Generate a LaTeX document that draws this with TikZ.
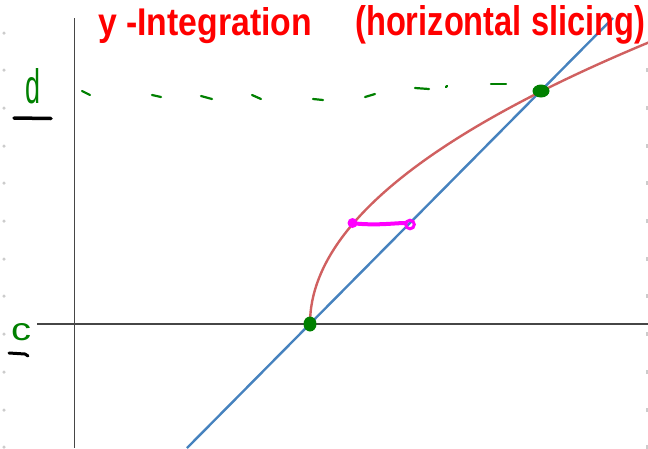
\documentclass[tikz,border=0pt]{standalone}
\usepackage{fontspec}
\setsansfont{Liberation Sans}
\usepackage{xcolor}
\usepackage{tikz}
\usetikzlibrary{arrows.meta, positioning, shapes.geometric}

\definecolor{inkred}{RGB}{255,0,0}
\definecolor{inkgreen}{RGB}{0,128,0}
\definecolor{inkpink}{RGB}{255,0,255}
\definecolor{lineblue}{RGB}{70,130,190}
\definecolor{curvered}{RGB}{208,96,96}
\definecolor{axisgray}{RGB}{70,70,70}

\tikzset{
	gridpt/.style={circle, fill=black!20, inner sep=0pt, minimum size=3.5pt},
	hitdot/.style={ellipse, fill=inkgreen, inner sep=0pt},
	axisline/.style={axisgray, line width=1.4pt},
	penline/.style={line width=2.2pt, line cap=round, line join=round},
}

\begin{document}
\begin{tikzpicture}[x=1pt, y=-1pt]
				\useasboundingbox (0, 0) rectangle (648, 448);
				% Paths, nodes and wires:
				\foreach \gy in {33, 70, 108, 146, 183, 221, 259, 296, 334, 372, 410, 447} {
					\node[gridpt] at (4, \gy){};
				}
				\foreach \gy in {70, 108, 146, 183, 221, 259, 296, 334, 372, 410, 447} {
					\node[gridpt, minimum width=3pt, minimum height=4pt, rectangle] at (647.5, \gy){};
				}
				\draw[axisline] (74.5, 18) -- (74.5, 448);
				\draw[axisline] (37, 324) -- (648, 324);
				\draw[lineblue, line width=2.4pt] (187, 448) -- (613, 18);
				\draw[curvered, line width=2.4pt] plot[domain=0:282, samples=150, smooth] ({310+(\x/15.3)^2}, {324-\x});
				% green level line at y = d
				\foreach \ax/\ay/\bx/\by in {82/91/90/95, 152/95/161/97, 201/96/212/99, 252/95/261/99,
					313/99/323/100, 365/97/375/94, 415/88/429/89, 446/87/447/86, 491/84/506/84} {
					\draw[inkgreen, penline] (\ax, \ay) -- (\bx, \by);
				}
				\node[hitdot, minimum width=13pt, minimum height=15pt](N1) at (310, 324){};
				\node[hitdot, minimum width=17pt, minimum height=13pt](N2) at (541, 91){};
				% horizontal slice
				\fill[inkpink] (352.5, 223) circle (5pt);
				\draw[inkpink, line width=4pt, line cap=round] (351, 223) .. controls (375, 226) and (395, 223) .. (405, 223);
				\draw[inkpink, line width=3pt] (410, 224.5) circle (4.3pt);
				% labels
				\node[anchor=base west, inner sep=0pt, text=inkgreen](N3) at (25, 103){\resizebox{15pt}{35pt}{\sffamily d}};
				\draw[black, line width=3.5pt, line cap=round] (14, 118) -- (51, 118.5);
				\node[anchor=base west, inner sep=0pt, text=inkgreen](N4) at (11, 340){\resizebox{20pt}{17pt}{\sffamily c}};
				\draw[black, line width=3pt, line cap=round] (9, 353) -- (25, 354) -- (28, 356);
				\node[anchor=base west, inner sep=0pt, text=inkred](N5) at (98, 35){\resizebox{214pt}{28pt}{\sffamily\bfseries y -Integration}};
				\node[anchor=base west, inner sep=0pt, text=inkred](N6) at (355, 35){\resizebox{290pt}{30pt}{\sffamily\bfseries (horizontal slicing)}};
			\end{tikzpicture}
\end{document}
